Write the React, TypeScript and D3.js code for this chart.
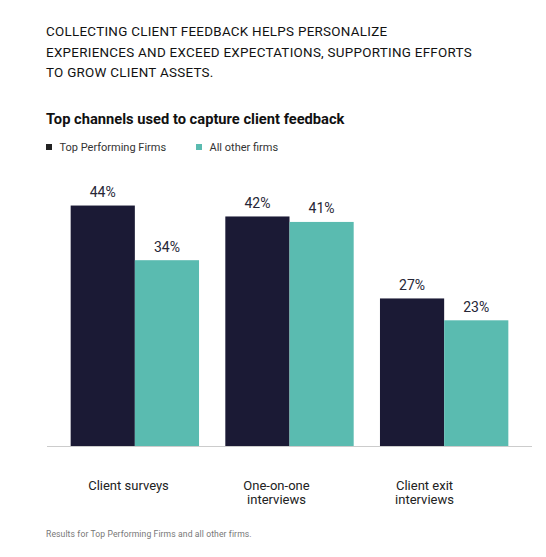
import * as d3 from 'd3';
import { useEffect, useRef } from 'react';

const categories = ['Client surveys', 'One-on-one interviews', 'Client exit interviews'];
const categoryLines = [['Client surveys'], ['One-on-one', 'interviews'], ['Client exit', 'interviews']];
const series = ['Top Performing Firms', 'All other firms'];
const topFirms = [44, 42, 27];
const otherFirms = [34, 41, 23];
const colors = ['#1b1a35', '#5abbb0'];
const legendColors = ['#222222', '#5abbb0'];
const headline = [
  'COLLECTING CLIENT FEEDBACK HELPS PERSONALIZE',
  'EXPERIENCES AND EXCEED EXPECTATIONS, SUPPORTING EFFORTS',
  'TO GROW CLIENT ASSETS.',
];
const subtitle = 'Top channels used to capture client feedback';
const footnote = 'Results for Top Performing Firms and all other firms.';

const FONT = 'Roboto, "Noto Sans", sans-serif';

export default function App() {
  const ref = useRef<SVGSVGElement | null>(null);

  useEffect(() => {
    const svg = d3.select(ref.current);
    svg.selectAll('*').remove();

    const width = 546;
    const height = 557;
    const baseline = 446;

    svg.append('rect').attr('width', width).attr('height', height).attr('fill', '#fff');

    // headline
    const head = svg.append('g').attr('font-family', FONT).attr('fill', '#111');
    headline.forEach((line, i) => {
      head
        .append('text')
        .attr('x', 46)
        .attr('y', 36 + i * 20.7)
        .attr('font-size', 13.4)
        .attr('letter-spacing', 0.28)
        .text(line);
    });

    svg
      .append('text')
      .attr('x', 46)
      .attr('y', 124)
      .attr('font-family', FONT)
      .attr('font-size', 14.7)
      .attr('font-weight', 700)
      .attr('fill', '#111')
      .text(subtitle);

    // legend
    const legendX = [46, 196];
    series.forEach((s, i) => {
      const g = svg.append('g').attr('transform', `translate(${legendX[i]},144)`);
      g.append('rect').attr('width', 6).attr('height', 6).attr('fill', legendColors[i]);
      g.append('text')
        .attr('x', 13.5)
        .attr('y', 6.5)
        .attr('font-family', FONT)
        .attr('font-size', 11)
        .attr('fill', '#333')
        .text(s);
    });

    const data = categories.map((c, i) => ({ category: c, values: [topFirms[i], otherFirms[i]] }));

    const x0 = d3
      .scaleBand<string>()
      .domain(categories)
      .range([47, 532])
      .paddingInner(0.17)
      .paddingOuter(0.153);

    const x1 = d3.scaleBand<string>().domain(series).range([0, x0.bandwidth()]).padding(0);

    const y = d3.scaleLinear().domain([0, 50]).range([baseline, baseline - 273.25]);

    const groups = svg
      .append('g')
      .selectAll('g')
      .data(data)
      .enter()
      .append('g')
      .attr('transform', (d) => `translate(${x0(d.category)},0)`);

    groups
      .selectAll('rect')
      .data((d) => d.values.map((v, j) => ({ key: series[j], value: v, j })))
      .enter()
      .append('rect')
      .attr('x', (d) => x1(d.key)!)
      .attr('y', (d) => y(d.value))
      .attr('width', x1.bandwidth())
      .attr('height', (d) => baseline - y(d.value))
      .attr('fill', (d) => colors[d.j]);

    groups
      .selectAll('text.value')
      .data((d) => d.values.map((v, j) => ({ key: series[j], value: v, j })))
      .enter()
      .append('text')
      .attr('class', 'value')
      .attr('x', (d) => x1(d.key)! + x1.bandwidth() / 2)
      .attr('y', (d) => y(d.value) - 8.5)
      .attr('text-anchor', 'middle')
      .attr('font-family', FONT)
      .attr('font-size', 14)
      .attr('fill', '#262636')
      .text((d) => `${d.value}%`);

    // baseline
    svg
      .append('line')
      .attr('x1', 47)
      .attr('x2', 532)
      .attr('y1', baseline + 0.5)
      .attr('y2', baseline + 0.5)
      .attr('stroke', '#cccccc')
      .attr('stroke-width', 1);

    // category labels
    const labelX = d3.scalePoint<string>().domain(categories).range([128.5, 424.5]);
    categories.forEach((c, i) => {
      const t = svg
        .append('text')
        .attr('text-anchor', 'middle')
        .attr('font-family', FONT)
        .attr('font-size', 13)
        .attr('fill', '#222');
      categoryLines[i].forEach((line, k) => {
        t.append('tspan')
          .attr('x', labelX(c)!)
          .attr('y', 489.5 + k * 14.7)
          .text(line);
      });
    });

    svg
      .append('text')
      .attr('x', 46)
      .attr('y', 537)
      .attr('font-family', FONT)
      .attr('font-size', 8.6)
      .attr('letter-spacing', 0.1)
      .attr('fill', '#777')
      .text(footnote);
  }, []);

  return (
    <svg
      ref={ref}
      width={546}
      height={557}
      style={{ position: 'absolute', left: 0, top: 0, display: 'block' }}
    />
  );
}
